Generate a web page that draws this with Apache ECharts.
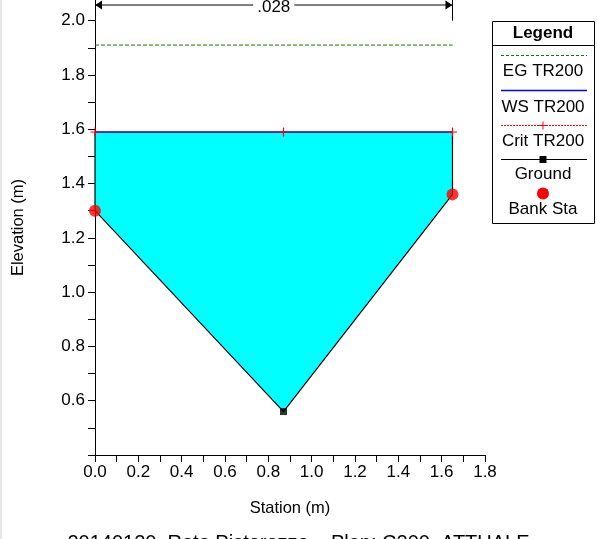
<!DOCTYPE html>
<html>
<head>
<meta charset="utf-8">
<script src="https://cdn.jsdelivr.net/npm/echarts@6/dist/echarts.min.js"></script>
<style>
  html, body { margin: 0; padding: 0; background: #fff; }
  #chart { width: 597px; height: 539px; }
</style>
</head>
<body>
<div id="chart"></div>
<script>
// cross section (station m, elevation m)
var groundSta = [0, 0.87, 1.65];
var groundElev = [1.30, 0.56, 1.36];
var bankSta = [0, 1.65];
var bankElev = [1.30, 1.36];
var wsElev = 1.59;   // WS TR200
var critElev = 1.59; // Crit TR200
var egElev = 1.91;   // EG TR200
var manningN = '.028';

var xTicks = [0, 0.1, 0.2, 0.3, 0.4, 0.5, 0.6, 0.7, 0.8, 0.9, 1.0, 1.1, 1.2, 1.3, 1.4, 1.5, 1.6, 1.7, 1.8];
var xLabels = [0, 0.2, 0.4, 0.6, 0.8, 1.0, 1.2, 1.4, 1.6, 1.8];
var yTicks = [0.4, 0.5, 0.6, 0.7, 0.8, 0.9, 1.0, 1.1, 1.2, 1.3, 1.4, 1.5, 1.6, 1.7, 1.8, 1.9, 2.0];
var yLabels = [0.6, 0.8, 1.0, 1.2, 1.4, 1.6, 1.8, 2.0];

var titleText = '20140120_Roto Pistorozzo    Plan: C200_ATTUALE';
var font = 'Liberation Sans, Arial, sans-serif';

var leftSta = groundSta[0];
var rightSta = groundSta[groundSta.length - 1];

// ground with the vertical walls up to the water surface
var groundLine = [[leftSta, wsElev]];
groundSta.forEach(function (s, i) { groundLine.push([s, groundElev[i]]); });
groundLine.push([rightSta, wsElev]);

var lowIdx = 0;
groundElev.forEach(function (e, i) { if (e < groundElev[lowIdx]) lowIdx = i; });

var plusPath = 'path://M0,3.5H8V4.5H0Z M3.5,0H4.5V8H3.5Z';

var myChart = echarts.init(document.getElementById('chart'));

var option = {
    animation: false,
    backgroundColor: '#fff',
    textStyle: { fontFamily: font },
    title: {
        text: titleText,
        left: 'center',
        top: 528,
        textStyle: { fontFamily: font, fontSize: 20, fontWeight: 'normal', color: '#000' }
    },
    grid: {
        left: 95,
        right: 112,
        top: 0,
        bottom: 84,
        outerBoundsMode: 'none'
    },
    xAxis: {
        type: 'value',
        min: 0,
        max: 1.8,
        name: 'Station (m)',
        nameLocation: 'middle',
        nameGap: 45,
        nameTextStyle: { fontSize: 16.5, color: '#000', fontFamily: font },
        axisLine: { lineStyle: { color: '#000', width: 1 } },
        axisTick: { length: 7, lineStyle: { color: '#000' }, customValues: xTicks },
        axisLabel: {
            customValues: xLabels,
            fontSize: 17, color: '#000', margin: 9,
            formatter: function (v) { return v.toFixed(1); }
        },
        splitLine: { show: false }
    },
    yAxis: {
        type: 'value',
        min: 0.4,
        max: 2.076,
        name: 'Elevation (m)',
        nameLocation: 'middle',
        nameGap: 68,
        nameTextStyle: { fontSize: 16.5, color: '#000', fontFamily: font },
        axisLine: { show: true, lineStyle: { color: '#000', width: 1 } },
        axisTick: { length: 7, lineStyle: { color: '#000' }, customValues: yTicks },
        axisLabel: {
            customValues: yLabels,
            fontSize: 17, color: '#000', margin: 10,
            formatter: function (v) { return v.toFixed(1); }
        },
        splitLine: { show: false }
    },
    series: [
        {
            // water area
            type: 'custom',
            z: 1,
            silent: true,
            data: [0],
            renderItem: function (params, api) {
                var pts = groundLine.map(function (p) { return api.coord(p); });
                return { type: 'polygon', shape: { points: pts }, style: { fill: '#00FFFF' } };
            }
        },
        {
            name: 'Ground',
            type: 'line',
            z: 3,
            data: groundLine,
            showSymbol: false,
            lineStyle: { color: '#000', width: 1.2 }
        },
        {
            type: 'scatter',
            z: 4,
            data: [[groundSta[lowIdx], groundElev[lowIdx]]],
            symbol: 'rect',
            symbolSize: 7,
            itemStyle: { color: '#000' }
        },
        {
            name: 'EG TR200',
            type: 'line',
            z: 3,
            data: [[leftSta, egElev], [rightSta, egElev]],
            showSymbol: false,
            lineStyle: { color: '#008000', width: 1, type: [4, 2] }
        },
        {
            name: 'WS TR200',
            type: 'line',
            z: 3,
            data: [[leftSta, wsElev], [rightSta, wsElev]],
            showSymbol: false,
            lineStyle: { color: '#0000FF', width: 1.5 }
        },
        {
            name: 'Crit TR200',
            type: 'line',
            z: 4,
            data: [[leftSta, critElev], [groundSta[lowIdx], critElev], [rightSta, critElev]],
            symbol: plusPath,
            symbolSize: 9,
            showAllSymbol: true,
            itemStyle: { color: '#FF0000' },
            lineStyle: { color: '#FF0000', width: 1, type: [1, 1] }
        },
        {
            name: 'Bank Sta',
            type: 'scatter',
            z: 5,
            data: bankSta.map(function (s, i) { return [s, bankElev[i]]; }),
            symbol: 'circle',
            symbolSize: 12,
            itemStyle: { color: '#FF0000' }
        },
        {
            // manning n dimension line between bank stations
            type: 'custom',
            z: 6,
            silent: true,
            clip: false,
            data: [[bankSta[0], bankSta[1]]],
            renderItem: function (params, api) {
                var a = api.coord([api.value(0), 2.0575]);
                var b = api.coord([api.value(1), 2.0575]);
                var top = api.coord([api.value(1), 2.076]);
                var tickEnd = api.coord([api.value(1), 2.0]);
                var ls = { stroke: '#000', lineWidth: 1 };
                return {
                    type: 'group',
                    children: [
                        { type: 'line', shape: { x1: a[0], y1: a[1], x2: b[0], y2: b[1] }, style: ls },
                        { type: 'polyline', shape: { points: [[a[0] + 7, a[1] - 4], [a[0] + 1, a[1]], [a[0] + 7, a[1] + 4]] }, style: ls },
                        { type: 'polyline', shape: { points: [[b[0] - 7, b[1] - 4], [b[0] - 1, b[1]], [b[0] - 7, b[1] + 4]] }, style: ls },
                        { type: 'line', shape: { x1: top[0], y1: top[1], x2: tickEnd[0], y2: tickEnd[1] }, style: ls },
                        {
                            type: 'text',
                            x: (a[0] + b[0]) / 2,
                            y: a[1] + 2,
                            style: {
                                text: manningN, fill: '#000', font: '17px ' + font,
                                align: 'center', verticalAlign: 'middle',
                                backgroundColor: '#fff', padding: [0, 4]
                            }
                        }
                    ]
                };
            }
        }
    ],
    graphic: [
        { type: 'rect', x: 0, y: 0, shape: { width: 2, height: 539 }, style: { fill: '#e8e8e8' }, silent: true },
        {
            type: 'group',
            x: 492,
            y: 21,
            children: [
                { type: 'rect', shape: { x: 0.5, y: 0.5, width: 102, height: 202 }, style: { fill: '#fff', stroke: '#000', lineWidth: 1 } },
                { type: 'text', x: 51, y: 12, style: { text: 'Legend', font: 'bold 17px ' + font, fill: '#000', align: 'center', verticalAlign: 'middle' } },
                { type: 'line', shape: { x1: 0.5, y1: 24.5, x2: 102.5, y2: 24.5 }, style: { stroke: '#000', lineWidth: 1 } },

                { type: 'line', shape: { x1: 9, y1: 34.5, x2: 95, y2: 34.5 }, style: { stroke: '#008000', lineWidth: 1, lineDash: [3, 2] } },
                { type: 'text', x: 51, y: 50, style: { text: 'EG TR200', font: '17px ' + font, fill: '#000', align: 'center', verticalAlign: 'middle' } },

                { type: 'line', shape: { x1: 9, y1: 69.5, x2: 95, y2: 69.5 }, style: { stroke: '#0000FF', lineWidth: 1.5 } },
                { type: 'text', x: 51, y: 86, style: { text: 'WS TR200', font: '17px ' + font, fill: '#000', align: 'center', verticalAlign: 'middle' } },

                { type: 'line', shape: { x1: 9, y1: 104.5, x2: 95, y2: 104.5 }, style: { stroke: '#FF0000', lineWidth: 1, lineDash: [2, 1] } },
                { type: 'line', shape: { x1: 47, y1: 104.5, x2: 55, y2: 104.5 }, style: { stroke: '#FF0000', lineWidth: 1 } },
                { type: 'line', shape: { x1: 51, y1: 100.5, x2: 51, y2: 108.5 }, style: { stroke: '#FF0000', lineWidth: 1 } },
                { type: 'text', x: 51, y: 120, style: { text: 'Crit TR200', font: '17px ' + font, fill: '#000', align: 'center', verticalAlign: 'middle' } },

                { type: 'line', shape: { x1: 9, y1: 138.5, x2: 95, y2: 138.5 }, style: { stroke: '#000', lineWidth: 1.2 } },
                { type: 'rect', shape: { x: 47.5, y: 135, width: 7, height: 7 }, style: { fill: '#000' } },
                { type: 'text', x: 51, y: 153, style: { text: 'Ground', font: '17px ' + font, fill: '#000', align: 'center', verticalAlign: 'middle' } },

                { type: 'circle', shape: { cx: 51, cy: 172.5, r: 6 }, style: { fill: '#FF0000' } },
                { type: 'text', x: 51, y: 188, style: { text: 'Bank Sta', font: '17px ' + font, fill: '#000', align: 'center', verticalAlign: 'middle' } }
            ]
        }
    ]
};

myChart.setOption(option);
</script>
</body>
</html>
